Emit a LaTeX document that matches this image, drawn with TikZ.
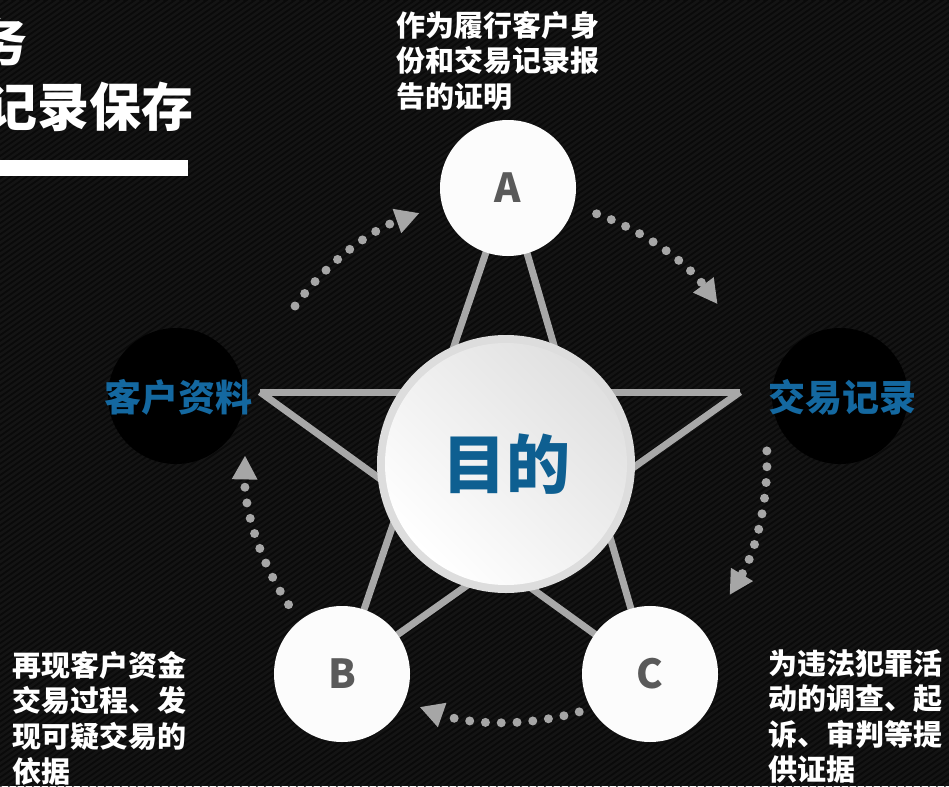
\documentclass[tikz,border=0pt]{standalone}
\usepackage{fontspec}
\setmainfont{Noto Sans CJK SC}
\usetikzlibrary{arrows.meta,calc}
\definecolor{bg}{HTML}{0A0A0A}
\definecolor{stripe}{HTML}{141414}
\definecolor{starline}{HTML}{A8A8A8}
\definecolor{dotgray}{HTML}{A6A6A6}
\definecolor{blueT}{HTML}{0E5F91}
\definecolor{blueL}{HTML}{1468A0}
\definecolor{letter}{HTML}{5A5A5A}
\definecolor{ring}{HTML}{DDDDDD}
\definecolor{circfill}{HTML}{FCFCFC}
\begin{document}
\begin{tikzpicture}[x=1pt,y=1pt,
  starln/.style={draw=starline,line width=7pt},
  dotarc/.style={draw=dotgray,line width=9pt,line cap=round,dash pattern=on 0pt off 15.8pt,
    -{Triangle[length=24pt,width=24pt,fill=dotgray]}},
  letterball/.style={circle,fill=circfill,minimum size=136pt,inner sep=0pt,
    font=\bfseries\fontsize{40}{40}\selectfont,text=letter},
  blackball/.style={circle,fill=black,minimum size=136pt,inner sep=0pt},
  bluelabel/.style={inner sep=0pt,text=blueL,font=\bfseries\fontsize{37}{37}\selectfont},
  desc/.style={inner sep=0pt,anchor=north west,align=left,text=white,
    font=\bfseries\fontsize{29}{35.5}\selectfont},
  title/.style={inner sep=0pt,anchor=east,text=white,font=\bfseries\fontsize{52}{52}\selectfont}
]
\useasboundingbox (0,0) rectangle (949,-786);
\fill[bg] (0,0) rectangle (949,-786);
\begin{scope}
  \clip (0,0) rectangle (949,-786);
  \foreach \t in {-1200,-1192,...,960} \draw[stripe,line width=2.5pt] (\t,-786) -- ++(1123,786);
\end{scope}

% positions
\coordinate (pA) at (508,-188);
\coordinate (pB) at (342,-674);
\coordinate (pC) at (650,-674);
\coordinate (pL) at (176,-396);
\coordinate (pR) at (840,-396);
\coordinate (tL) at (260,-392);
\coordinate (tR) at (740,-392);
\coordinate (pM) at (506,-464);
\coordinate (O) at (507,-460);

% hidden side circles
\node[blackball] (L) at (pL) {};
\node[blackball] (R) at (pR) {};

% star
\draw[starln] (pA) -- (pB);
\draw[starln] (pA) -- (pC);
\draw[starln] (tL) -- (tR);
\draw[starln] (tL) -- (pC);
\draw[starln] (tR) -- (pB);

% centre circle
\fill[ring] (pM) circle (129);
\shade[shading=axis,top color=white!88!black,bottom color=white,shading angle=-45] (pM) circle (121);
\node[inner sep=0pt,text=blueT,font=\bfseries\fontsize{64}{64}\selectfont] (M) at (pM) {目的};

% letter circles
\node[letterball] (A) at (pA) {A};
\node[letterball] (B) at (pB) {B};
\node[letterball] (C) at (pC) {C};

% dotted arcs
\coordinate (s1) at ($(O)+(144:262)$);
\coordinate (s2) at ($(O)+(70:262)$);
\coordinate (s3) at ($(O)+(2:260)$);
\coordinate (s4) at ($(O)+(-74:262)$);
\coordinate (s5) at ($(O)+(-146.5:262)$);
\draw[dotarc] (s1) arc[start angle=144,end angle=109.5,radius=262];
\draw[dotarc] (s2) arc[start angle=70,end angle=36.5,radius=262];
\draw[dotarc] (s3) arc[start angle=2,end angle=-31,radius=262];
\draw[dotarc] (s4) arc[start angle=-74,end angle=-109.5,radius=262];
\draw[dotarc] (s5) arc[start angle=-146.5,end angle=-181,radius=262];

% labels
\node[bluelabel] (lk) at (178,-397) {客户资料};
\node[bluelabel] (lj) at (842,-397) {交易记录};

\node[desc] (ta) at (396,-11) {作为履行客户身\\份和交易记录报\\告的证明};
\node[desc] (tb) at (12,-651) {再现客户资金\\交易过程、发\\现可疑交易的\\依据};
\node[desc] (tc) at (768,-649) {为违法犯罪活\\动的调查、起\\诉、审判等提\\供证据};

% title (cropped at the left edge, as in the reference)
\begin{scope}
  \clip (0,0) rectangle (949,-786);
  \node[title] (t1) at (28,-42) {务};
  \node[title] (t2) at (194,-107) {记录保存};
\end{scope}
\fill[white] (0,-160) rectangle (188,-176);
\end{tikzpicture}
\end{document}
